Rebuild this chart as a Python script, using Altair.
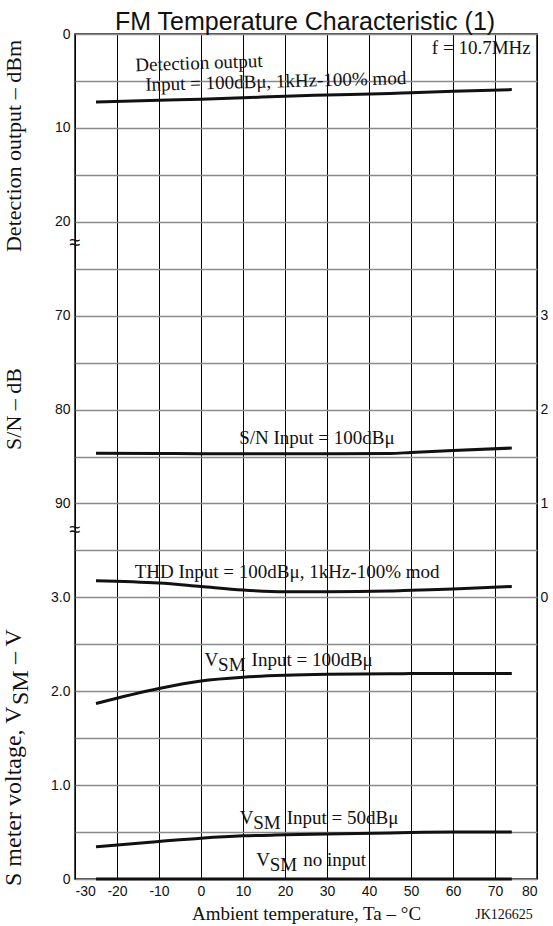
import altair as alt
import pandas as pd

# ---------------- data ----------------
temps = [-25, -10, 0, 10, 20, 30, 45, 50, 60, 74]
det_dbm = [7.25, 7.05, 6.95, 6.8, 6.62, 6.5, 6.33, 6.25, 6.1, 5.92]          # Detection output, dBm
sn_db = [84.65, 84.68, 84.70, 84.71, 84.72, 84.71, 84.68, 84.57, 84.36, 84.10]  # S/N, dB
thd_pct = [0.177, 0.152, 0.115, 0.078, 0.06, 0.06, 0.067, 0.075, 0.09, 0.115]  # THD, %
vsm100 = [1.87, 2.03, 2.11, 2.15, 2.17, 2.18, 2.185, 2.19, 2.19, 2.19]        # V
vsm50 = [0.344, 0.40, 0.435, 0.46, 0.47, 0.48, 0.49, 0.495, 0.50, 0.50]       # V
vsm0 = [0, 0, 0, 0, 0, 0, 0, 0, 0, 0]                                          # V

x_ticks = [-30, -20, -10, 0, 10, 20, 30, 40, 50, 60, 70, 80]
left_tick_labels = {0: "0", 2: "10", 4: "20", 6: "70", 8: "80", 10: "90",
                    12: "3.0", 14: "2.0", 16: "1.0", 18: "0"}
right_tick_labels = {6: "3", 8: "2", 10: "1", 12: "0"}

# The chart stacks three broken-axis panels on one grid of 18 rows.
def det_row(v): return v / 5.0
def sn_row(v): return 6 + (v - 70) / 5.0
def thd_row(v): return 12 - 2 * v
def vsm_row(v): return 18 - 2 * v

rows = []
for name, vals, f in [("det", det_dbm, det_row), ("sn", sn_db, sn_row),
                      ("vsm100", vsm100, vsm_row), ("vsm50", vsm50, vsm_row),
                      ("vsm0", vsm0, vsm_row)]:
    for t, v in zip(temps, vals):
        rows.append({"series": name, "T": t, "row": f(v)})
df_main = pd.DataFrame(rows)
df_thd = pd.DataFrame({"series": "thd", "T": temps, "row": [thd_row(v) for v in thd_pct]})


def label_expr(mapping):
    e = "''"
    for k, v in reversed(list(mapping.items())):
        e = f"datum.value == {k} ? '{v}' : ({e})"
    return e


SERIF = "Liberation Serif"
SANS = "Liberation Sans"
W, H = 462, 845

xscale = alt.Scale(domain=[-30, 80], nice=False, zero=False)
yscale = alt.Scale(domain=[0, 18], reverse=True, nice=False, zero=False)

x_axis = alt.Axis(values=x_ticks, grid=True, gridColor="#000000", gridWidth=1,
                  ticks=False, domain=False, labelFont=SANS, labelFontSize=14,
                  labelExpr="toString(datum.value)",
                  labelColor="#111111", labelPadding=5,
                  title="Ambient temperature, Ta – °C", titleFont=SERIF,
                  titleFontSize=19, titleFontWeight="normal", titleColor="#111111",
                  titlePadding=6)
left_axis = alt.Axis(values=list(range(19)), grid=True, gridColor="#8a8a8a",
                     gridWidth=1.5, ticks=False, domain=False,
                     labelExpr=label_expr(left_tick_labels), labelFont=SANS,
                     labelFontSize=14, labelColor="#111111", labelPadding=5,
                     title=None)
right_axis = alt.Axis(orient="right", values=list(right_tick_labels.keys()),
                      grid=False, ticks=False, domain=False,
                      labelExpr=label_expr(right_tick_labels), labelFont=SANS,
                      labelFontSize=14, labelColor="#111111", labelPadding=3,
                      title=None)

X = alt.X("T:Q", scale=xscale, axis=x_axis)

lines = alt.Chart(df_main).mark_line(color="#111111", strokeWidth=3,
                                     interpolate="monotone").encode(
    x=X,
    y=alt.Y("row:Q", scale=yscale, axis=left_axis),
    detail="series:N",
)
thd_line = alt.Chart(df_thd).mark_line(color="#111111", strokeWidth=3,
                                       interpolate="monotone").encode(
    x=X,
    y=alt.Y("row:Q", scale=yscale, axis=right_axis),
)


def txt(text, t, row, size=19, font=SERIF, align="left", dx=0, dy=0, angle=0,
        baseline="middle"):
    kw = dict(text=text, font=font, fontSize=size, align=align, baseline=baseline,
              color="#111111", dx=dx, dy=dy)
    if angle:
        kw["angle"] = angle
    return alt.Chart(pd.DataFrame({"T": [t], "row": [row]})).mark_text(**kw).encode(
        x=X,
        y=alt.Y("row:Q", scale=yscale, axis=None),
    )


def ptxt(text, px, py, size=19, font=SERIF, align="center", dx=0, dy=0, angle=0,
         baseline="middle"):
    kw = dict(text=text, font=font, fontSize=size, align=align, baseline=baseline,
              color="#111111", dx=dx, dy=dy)
    if angle:
        kw["angle"] = angle
    return alt.Chart(pd.DataFrame({"a": [0]})).mark_text(**kw).encode(
        x=alt.value(px), y=alt.value(py))


annotations = [
    txt("f = 10.7MHz", 78.5, 0.30, align="right"),
    txt("Detection output", -0.5, 0.62, align="center", angle=358),
    txt("Input = 100dBμ, 1kHz-100% mod", 17.8, 1.01, align="center", angle=358.5),
    txt("S/N Input = 100dBμ", 27.6, 8.6, align="center"),
    txt("THD Input = 100dBμ, 1kHz-100% mod", 20.5, 11.45, align="center"),
    # V_SM Input = 100dBμ
    txt("V", 0.85, 13.34), txt("SM", 0.85, 13.34, dx=13.5, dy=5),
    txt("Input = 100dBμ", 0.85, 13.34, dx=47),
    # V_SM Input = 50dBμ
    txt("V", 9.2, 16.70), txt("SM", 9.2, 16.70, dx=13.5, dy=5),
    txt("Input = 50dBμ", 9.2, 16.70, dx=47),
    # V_SM no input
    txt("V", 13.15, 17.60), txt("SM", 13.15, 17.60, dx=13.5, dy=5),
    txt("no input", 13.15, 17.60, dx=47),
    # axis breaks
    txt("≈", -30, 4.45, size=20, font=SANS, align="center"),
    txt("≈", -30, 10.57, size=20, font=SANS, align="center"),
]

# figure title, y-axis titles, code
frame_text = [
    ptxt("FM Temperature Characteristic (1)", 230, -4, size=25, font=SANS,
         baseline="alphabetic"),
    ptxt("Detection output – dBm", -61, 112, size=22, angle=270),
    ptxt("S/N – dB", -61, 375, size=22, angle=270),
    ptxt("S meter voltage, V", -61, 852, size=24, angle=270, align="left"),
    ptxt("SM", -61, 852, size=24, angle=270, align="left", dx=181, dy=7),
    ptxt("– V", -61, 852, size=24, angle=270, align="left", dx=222),
    ptxt("JK126625", 429, 36 + H, size=14, baseline="middle"),
]

chart = alt.layer(lines, thd_line, *annotations, *frame_text).resolve_axis(
    y="independent"
).properties(
    width=W, height=H,
    autosize=alt.AutoSizeParams(type="none"),
    padding={"left": 75, "top": 34, "right": 16, "bottom": 47},
    background="white",
).configure_view(stroke="#111111", strokeWidth=1.5)

chart.save("out.html", embed_options={"renderer": "svg", "actions": False})
